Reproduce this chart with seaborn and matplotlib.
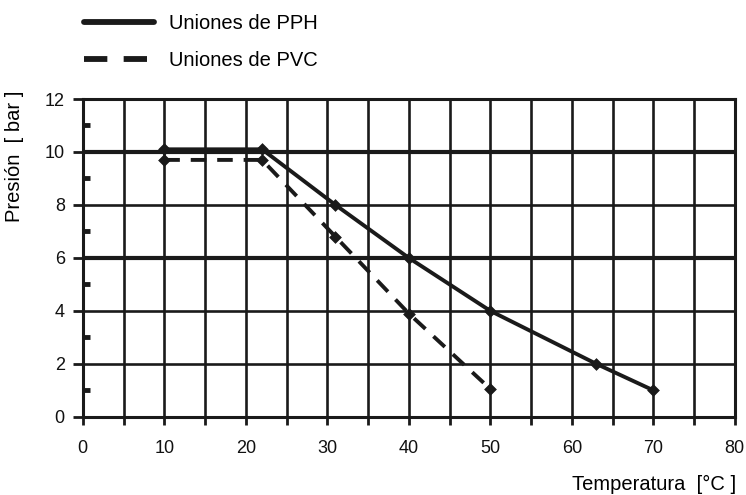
import numpy as np
import pandas as pd
import seaborn as sns
import matplotlib.pyplot as plt

# values
temp_pph = [10, 22, 31, 40, 50, 63, 70]
pres_pph = [10.1, 10.1, 8.0, 6.0, 4.0, 2.0, 1.0]
temp_pvc = [10, 22, 31, 40, 50]
pres_pvc = [9.7, 9.7, 6.8, 3.9, 1.05]
labels = ['Uniones de PPH', 'Uniones de PVC']

df = pd.concat([
    pd.DataFrame({'temp': temp_pph, 'pres': pres_pph, 'serie': labels[0]}),
    pd.DataFrame({'temp': temp_pvc, 'pres': pres_pvc, 'serie': labels[1]}),
])

sns.set_style("white")
plt.rcParams['font.family'] = ['Liberation Sans', 'DejaVu Sans']
ink = '#1a1a1a'

fig = plt.figure(figsize=(7.46, 4.95), dpi=100)
ax = fig.add_axes([0.111, 0.158, 0.874, 0.642])

sns.lineplot(data=df, x='temp', y='pres', style='serie', style_order=labels,
             dashes={labels[0]: '', labels[1]: (4, 2.8)}, color=ink, lw=2.8, ax=ax)
sns.scatterplot(data=df, x='temp', y='pres', marker='D', s=36, color=ink,
                edgecolor=ink, legend=False, ax=ax, zorder=5)

ax.set_xlim(0, 80)
ax.set_ylim(0, 12)
ax.set_xticks(np.arange(0, 81, 5))
ax.set_xticklabels([str(v) if v % 10 == 0 else '' for v in range(0, 81, 5)])
ax.set_yticks(np.arange(0, 13, 2))
ax.set_yticks(np.arange(1, 12, 2), minor=True)

ax.grid(True, which='major', color=ink, lw=1.9)
for v, gl in zip(ax.get_yticks(), ax.yaxis.get_gridlines()):
    if v in (6, 10):
        gl.set_linewidth(3.0)
ax.set_axisbelow(True)

for s in ax.spines.values():
    s.set_color(ink)
    s.set_linewidth(2.2)

ax.tick_params(axis='x', which='major', direction='out', length=6, width=2,
               color=ink, pad=11, labelsize=13, labelcolor='#111111', bottom=True)
ax.tick_params(axis='y', which='major', direction='out', length=7, width=2,
               color=ink, pad=6, labelsize=13, labelcolor='#111111', left=True)
ax.tick_params(axis='y', which='minor', direction='in', length=5, width=3.5,
               color=ink, left=True)

ax.set_xlabel('Temperatura  [°C ]', fontsize=14.5, color='#000000')
ax.xaxis.set_label_coords(0.876, -0.183)
ax.set_ylabel('Presión  [ bar ]', fontsize=14.5, color='#000000')
ax.yaxis.set_label_coords(-0.09, 0.82)

sns.move_legend(ax, 'upper left', bbox_to_anchor=(0.112, 0.972),
                bbox_transform=fig.transFigure, frameon=False, title=None,
                fontsize=14.5, handlelength=3.5, handletextpad=0.75,
                labelspacing=0.9, borderpad=0, borderaxespad=0)
for h in ax.get_legend().get_lines():
    h.set_linewidth(4.2)
for t in ax.get_legend().get_texts():
    t.set_color('#000000')

fig.savefig('out.png', dpi=100)
